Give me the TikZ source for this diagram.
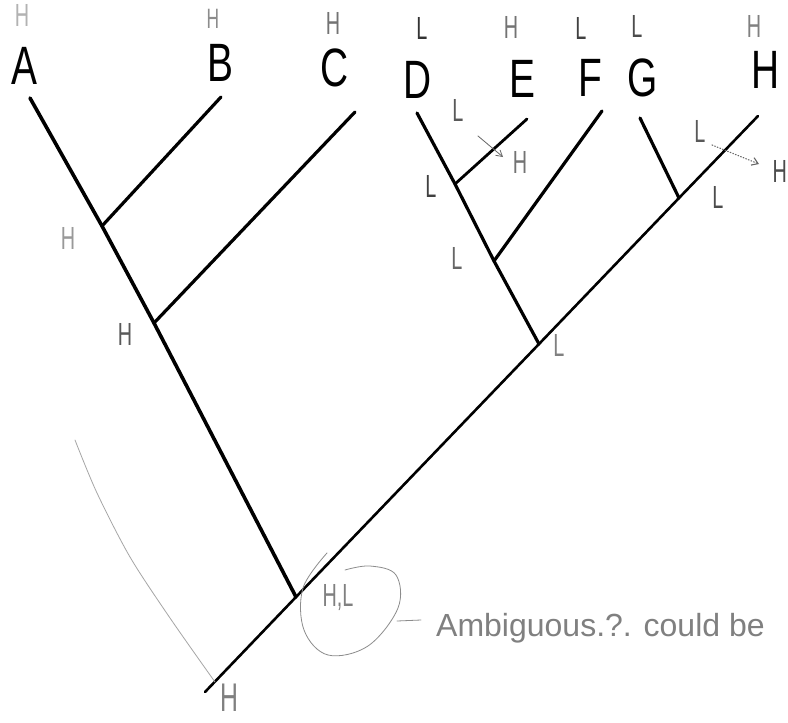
\documentclass[tikz,border=0pt]{standalone}
\usepackage{fontspec}
\setmainfont{Liberation Sans}
\usetikzlibrary{arrows.meta}
\begin{document}
\begin{tikzpicture}[x=1pt,y=1pt,
  tiplab/.style={font=\fontsize{54}{54}\selectfont, xscale=0.72, transform shape, inner sep=0pt},
  penlab/.style={font=\fontsize{32}{32}\selectfont, xscale=0.62, transform shape, inner sep=0pt, text=#1},
  penlab/.default=black!55,
  branch/.style={line width=3.2pt, line cap=round},
  rootline/.style={line width=2.6pt, line cap=round},
  faint/.style={draw=black!45, line width=0.8pt, line cap=round}]
\useasboundingbox (0,0) rectangle (788,-723);
\fill[white] (0,0) rectangle (788,-723);
% junctions and tips
\coordinate (tA) at (30,-98);
\coordinate (jB) at (102,-226);
\coordinate (jC) at (154,-323);
\coordinate (jA) at (296,-597);
\coordinate (rB) at (205,-692);
\coordinate (tH) at (758,-116);
\coordinate (tB) at (221,-97);
\coordinate (tC) at (355,-112);
\coordinate (jD) at (539,-344);
\coordinate (tD) at (417,-113);
\coordinate (jE) at (455,-184);
\coordinate (tE) at (527,-119);
\coordinate (jF) at (494,-261);
\coordinate (tF) at (602,-111);
\coordinate (jG) at (679,-198);
\coordinate (tG) at (640,-118);
% tree
\draw[branch, line width=3.6pt] (tA) -- (jB) -- (jC) -- (jA);
\draw[rootline] (rB) -- (jA) -- (jD) -- (jG) -- (tH);
\draw[branch] (jB) -- (tB);
\draw[branch] (jC) -- (tC);
\draw[branch] (tD) -- (jE) -- (jF) -- (jD);
\draw[branch, line width=2.8pt] (jE) -- (tE);
\draw[branch] (jF) -- (tF);
\draw[branch] (tG) -- (jG);
% tip letters
\node[tiplab] (A) at (24,-66) {A};
\node[tiplab] (B) at (220,-63) {B};
\node[tiplab] (C) at (335,-68) {C};
\node[tiplab] (D) at (418,-80) {D};
\node[tiplab] (E) at (522,-79) {E};
\node[tiplab] (F) at (590,-78) {F};
\node[tiplab] (G) at (643,-78) {G};
\node[tiplab] (H) at (766,-70) {H};
% states above tips
\node[penlab=black!30] (sA) at (22,-15) {H};
\node[penlab=black!45, font=\fontsize{28}{28}\selectfont] (sB) at (213,-19) {H};
\node[penlab=black!55] (sC) at (333,-23) {H};
\node[penlab=black!80] (sD) at (422,-28) {L};
\node[penlab=black!55] (sE) at (511,-27) {H};
\node[penlab=black!75] (sF) at (581,-28) {L};
\node[penlab=black!70] (sG) at (637,-26) {L};
\node[penlab=black!50] (sH) at (754,-26) {H};
% internal states
\node[penlab=black!40] (nB) at (68,-238) {H};
\node[penlab=black!65] (nC) at (125,-334) {H};
\node[penlab=black!65] (nE1) at (458,-110) {L};
\coordinate (eA1) at (478,-136);
\coordinate (eA2) at (503,-157);
\draw[faint, draw=black!60, -{Straight Barb[length=6pt,width=7pt]}] (eA1) -- (eA2);
\node[penlab=black!55] (nE2) at (520,-162) {H};
\node[penlab=black!75] (nE) at (431,-186) {L};
\node[penlab=black!60] (nF) at (457,-258) {L};
\node[penlab=black!50] (nD) at (559,-345) {L};
\node[penlab=black!65] (nH1) at (700,-131) {L};
\coordinate (hA1) at (712,-145);
\coordinate (hA2) at (759,-164);
\draw[faint, draw=black!60, dotted, line width=1.1pt, -{Straight Barb[length=6pt,width=8pt]}] (hA1) -- (hA2);
\node[penlab=black!70, anchor=east] (nH2) at (787,-171) {H};
\node[penlab=black!70] (nG) at (718,-197) {L};
% root states
\node[penlab=black!50, font=\fontsize{40}{40}\selectfont] (nR) at (229,-698) {H};
\node[penlab=black!50] (nA) at (338,-598) {H,L};
\draw[faint] plot[smooth, tension=0.6] coordinates {(327,-553) (303,-588) (304,-630) (328,-655) (368,-646) (398,-608) (396,-575) (370,-566) (345,-570)};
\coordinate (dash1) at (397,-621);
\coordinate (dash2) at (421,-620);
\draw[faint] (dash1) -- (dash2);
\node[font=\fontsize{32}{32}\selectfont, text=black!50, anchor=west, inner sep=0pt] (amb) at (436,-628) {Ambiguous.?. could be};
% faint arc on the left
\draw[faint, draw=black!35] plot[smooth] coordinates {(75,-440) (97,-493) (130,-557) (170,-618) (215,-682)};
\end{tikzpicture}
\end{document}
